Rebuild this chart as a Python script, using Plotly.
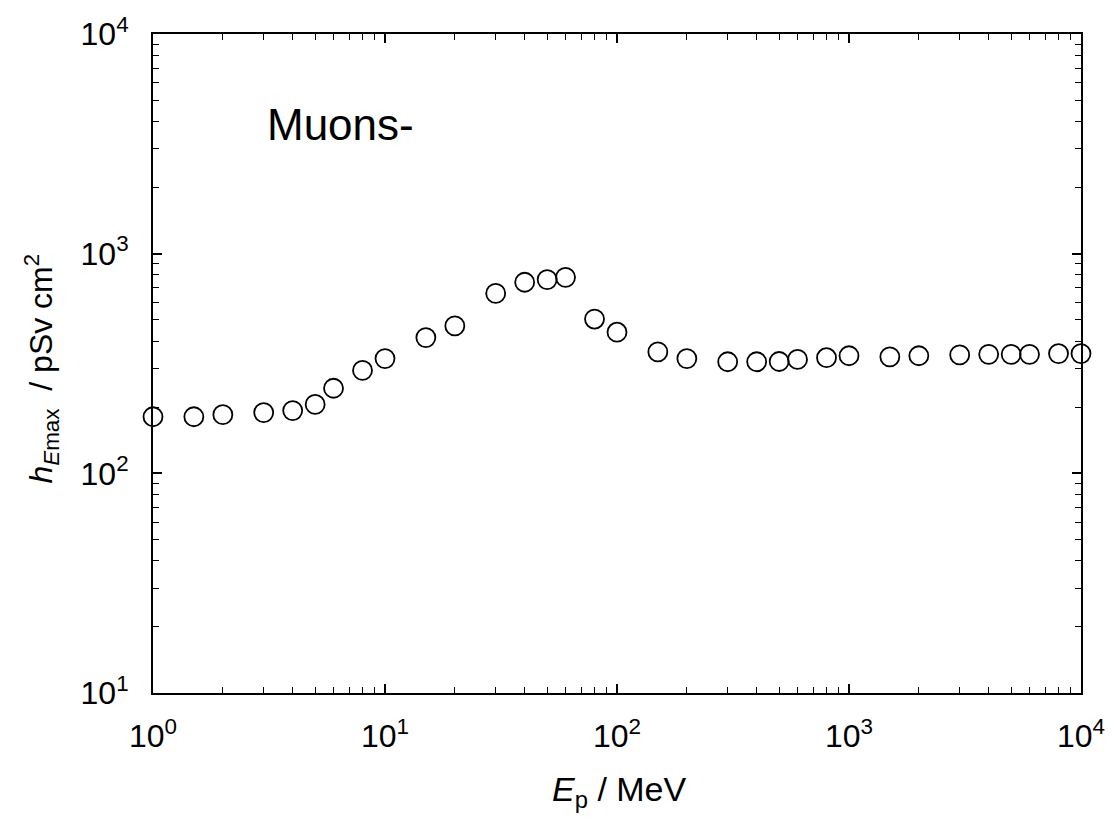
import plotly.graph_objects as go

energy_mev = [1, 1.5, 2, 3, 4, 5, 6, 8, 10, 15, 20, 30, 40, 50, 60, 80, 100, 150, 200,
              300, 400, 500, 600, 800, 1000, 1500, 2000, 3000, 4000, 5000, 6000, 8000, 10000]
h_emax = [181, 181, 185, 189, 193, 206, 244, 294, 333, 415, 469, 659, 741, 762, 780,
          504, 439, 357, 333, 322, 322, 323, 330, 336, 343, 339, 343, 346, 348, 348, 348, 351, 351]

x_tickvals = [1, 10, 100, 1000, 10000]
x_ticktext = ["10<sup>0</sup>", "10<sup>1</sup>", "10<sup>2</sup>", "10<sup>3</sup>", "10<sup>4</sup>"]
y_tickvals = [10, 100, 1000, 10000]
y_ticktext = ["10<sup>1</sup>", "10<sup>2</sup>", "10<sup>3</sup>", "10<sup>4</sup>"]

def minor_vals(lo_exp, hi_exp):
    out = []
    for e in range(lo_exp, hi_exp):
        for d in range(2, 10):
            out.append(d * 10 ** e)
    return out

FONT = "Arial, Liberation Sans, sans-serif"

fig = go.Figure()
fig.add_trace(go.Scatter(
    x=energy_mev, y=h_emax, mode="markers",
    marker=dict(symbol="circle-open", size=19, color="black", line=dict(width=1.8, color="black")),
    showlegend=False, cliponaxis=False,
))

axis_common = dict(
    type="log", showgrid=False, zeroline=False,
    showline=True, linecolor="black", linewidth=2, mirror="ticks",
    ticks="inside", ticklen=9, tickwidth=1.6, tickcolor="black",
    tickfont=dict(family=FONT, size=32, color="black"),
    tickmode="array",
)

fig.update_xaxes(
    **axis_common, range=[0, 4], tickvals=x_tickvals, ticktext=x_ticktext,
    minor=dict(tickmode="array", tickvals=minor_vals(0, 4), ticks="inside", ticklen=6,
               tickwidth=1.4, tickcolor="black", showgrid=False),
    ticklabelstandoff=14,
)
fig.update_yaxes(
    **axis_common, range=[1, 4], tickvals=y_tickvals, ticktext=y_ticktext,
    minor=dict(tickmode="array", tickvals=minor_vals(1, 4), ticks="inside", ticklen=6,
               tickwidth=1.4, tickcolor="black", showgrid=False),
    ticklabelstandoff=16,
)

fig.add_annotation(
    text="Muons-", xref="paper", yref="paper", x=0.1206, y=0.862,
    xanchor="left", yanchor="middle", showarrow=False,
    font=dict(family=FONT, size=44, color="black"),
)
fig.add_annotation(
    text="<i>E</i><sub>p</sub> / MeV", xref="paper", yref="paper", x=0.503, y=-0.15,
    xanchor="center", yanchor="middle", showarrow=False,
    font=dict(family=FONT, size=34, color="black"),
)
fig.add_annotation(
    text="<i>h</i><sub><i>E</i>max</sub>  / pSv cm<sup>2</sup>", xref="paper", yref="paper",
    x=-0.1206, y=0.4925, xanchor="center", yanchor="middle", textangle=-90, showarrow=False,
    font=dict(family=FONT, size=32, color="black"),
)

fig.update_layout(
    width=1117, height=827,
    margin=dict(l=153, r=35, t=27, b=134),
    plot_bgcolor="white", paper_bgcolor="white",
)

fig.write_html("out.html")
